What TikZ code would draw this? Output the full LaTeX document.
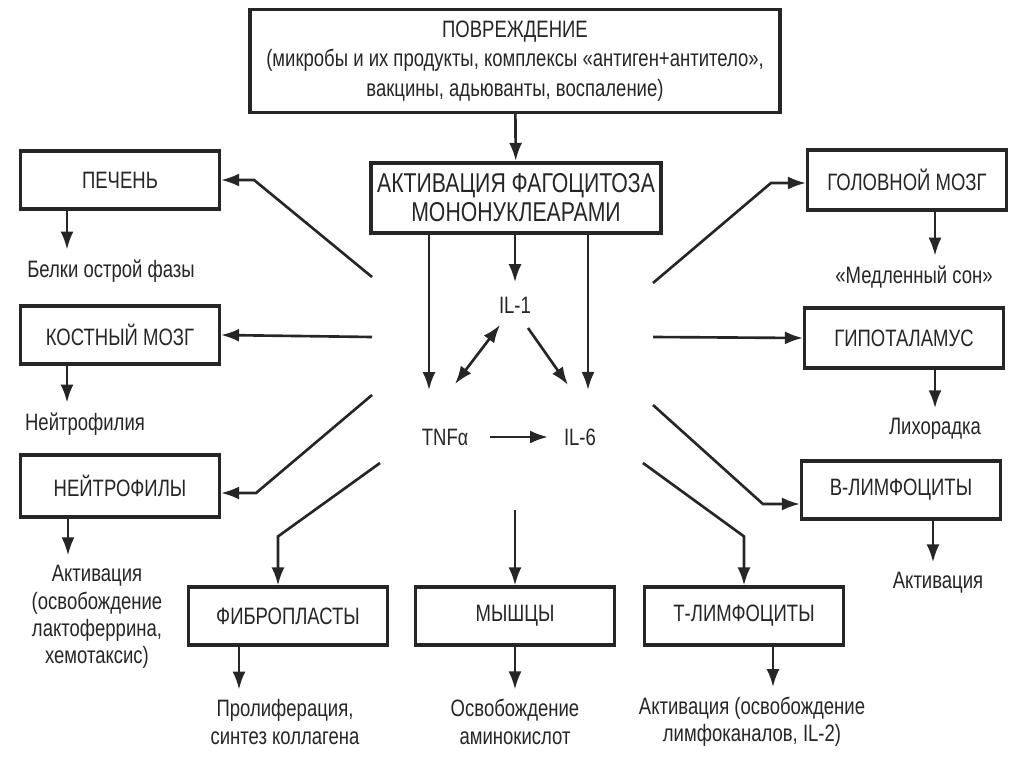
\documentclass[tikz,border=0pt]{standalone}
\usepackage{fontspec}
\setmainfont{Liberation Sans}[FakeStretch=0.78]
\usetikzlibrary{arrows.meta}

\begin{document}
\begin{tikzpicture}[
  x=0.02cm, y=-0.02cm,
  box/.style  = {rectangle, draw=black!85, line width=1.8pt, fill=white,
                 minimum width=3.98cm, minimum height=1.16cm, align=center,
                 text=black!85, font=\fontsize{13.5}{16.5}\selectfont},
  res/.style  = {align=center, inner sep=1pt, text=black!85,
                 font=\fontsize{13.5}{15.5}\selectfont},
  cyt/.style  = {inner sep=3pt, text=black!85, font=\fontsize{13.5}{16}\selectfont},
  arr/.style  = {-{Latex[length=3.6mm,width=2.6mm]}, line width=1.5pt, black!85},
  arrs/.style = {{Latex[length=3.6mm,width=2.6mm]}-{Latex[length=3.6mm,width=2.6mm]},
                 line width=1.5pt, black!85},
]
\useasboundingbox[fill=white] (0,0) rectangle (1024,767);
% Top: damage and activation
\node[box, minimum width=10.6cm, minimum height=2.06cm,
      font=\fontsize{13.5}{16.8}\selectfont] (dmg) at (515,61)
  {ПОВРЕЖДЕНИЕ\\(микробы и их продукты, комплексы «антиген+антитело»,\\вакцины, адьюванты, воспаление)};
\node[box, minimum width=5.04cm, minimum height=1.4cm, line width=2.4pt,
      font=\fontsize{15.5}{16.5}\selectfont] (act) at (516,198)
  {АКТИВАЦИЯ ФАГОЦИТОЗА\\МОНОНУКЛЕАРАМИ};
% Cytokines
\node[cyt] (il1) at (515,305) {IL-1};
\node[cyt] (tnf) at (445,437) {TNF{\fontsize{13}{13}\selectfont α}};
\node[cyt] (il6) at (580,437) {IL-6};
% Left column
\node[box] (liver)  at (120,180) {ПЕЧЕНЬ};
\node[box] (marrow) at (120,335) {КОСТНЫЙ МОЗГ};
\node[box, minimum height=1.24cm] (neut) at (120,486) {НЕЙТРОФИЛЫ};
\node[res] (prot)   at (111,271) {Белки острой фазы};
\node[res] (nphil)  at (85,424)  {Нейтрофилия};
\node[res] (nact)   at (97,617)  {Активация\\(освобождение\\лактоферрина,\\хемотаксис)};
% Bottom row
\node[box] (fibro)  at (288,616) {ФИБРОПЛАСТЫ};
\node[box] (muscle) at (515,616) {МЫШЦЫ};
\node[box] (tlym)   at (744,616) {Т-ЛИМФОЦИТЫ};
\node[res] (prolif) at (285,722) {Пролиферация,\\синтез коллагена};
\node[res] (amino)  at (515,722) {Освобождение\\аминокислот};
\node[res] (tact)   at (752,722) {Активация (освобождение\\лимфоканалов, IL-2)};
% Right column
\node[box, minimum height=1.2cm] (brain) at (907,180) {ГОЛОВНОЙ МОЗГ};
\node[box, minimum height=1.2cm] (hypo)  at (904,338) {ГИПОТАЛАМУС};
\node[box] (blym)  at (901,490) {В-ЛИМФОЦИТЫ};
\node[res] (sleep) at (914,277) {«Медленный сон»};
\node[res] (fever) at (935,429) {Лихорадка};
\node[res] (bact)  at (938,583) {Активация};
% Spoke ends round the cytokines
\coordinate (sl1) at (372,277);
\coordinate (sl2) at (372,337);
\coordinate (sl3) at (372,395);
\coordinate (sl4) at (380,463);
\coordinate (sm)  at (515,510);
\coordinate (sr4) at (643,463);
\coordinate (sr3) at (653,405);
\coordinate (sr2) at (653,337);
\coordinate (sr1) at (653,283);
% Arrows: centre
\draw[arr] (dmg) -- (act);
\draw[arr, shorten >=0.66cm] (429,0 |- act.south) -- (429,0 |- tnf.north);
\draw[arr, shorten >=0.18cm] (act.south -| il1.north) -- (il1.north);
\draw[arr, shorten >=0.66cm] (588,0 |- act.south) -- (588,0 |- il6.north);
\draw[arrs] ([shift={(-0.3cm,-0.4cm)}]il1.center) -- ([shift={(0.2cm,1.06cm)}]tnf.center);
\draw[arr] ([shift={(0.26cm,-0.46cm)}]il1.center) -- ([shift={(-0.24cm,1.04cm)}]il6.center);
\draw[arr] ([xshift=0.9cm]tnf.center) -- ([xshift=-0.64cm]il6.center);
% Arrows: spokes
\draw[arr] (sl1) -- ([xshift=0.66cm]liver.east) -- (liver.east);
\draw[arr] (sl2) -- (marrow.east);
\draw[arr] (sl3) -- ([shift={(0.7cm,-0.14cm)}]neut.east) -- ([yshift=-0.14cm]neut.east);
\draw[arr] (sl4) -- ([shift={(-0.2cm,0.98cm)}]fibro.north) -- ([xshift=-0.2cm]fibro.north);
\draw[arr] (sm)  -- (muscle.north);
\draw[arr] (sr4) -- ([yshift=0.98cm]tlym.north) -- (tlym.north);
\draw[arr] (sr3) -- ([shift={(-0.74cm,-0.28cm)}]blym.west) -- ([yshift=-0.28cm]blym.west);
\draw[arr] (sr2) -- (hypo.west);
\draw[arr] (sr1) -- ([shift={(-0.7cm,-0.06cm)}]brain.west) -- ([yshift=-0.06cm]brain.west);
% Arrows: outcomes
\draw[arr] (67,0 |- liver.south)  -- ([yshift=0.16cm]67,0 |- prot.north);
\draw[arr] (67,0 |- marrow.south) -- ([yshift=0.16cm]67,0 |- nphil.north);
\draw[arr] (68,0 |- neut.south)   -- ([yshift=0.16cm]68,0 |- nact.north);
\draw[arr] (239,0 |- fibro.south) -- ([yshift=0.16cm]239,0 |- prolif.north);
\draw[arr] (muscle.south)         -- ([yshift=0.16cm]amino.north -| muscle.south);
\draw[arr] (773,0 |- tlym.south)  -- ([yshift=0.16cm]773,0 |- tact.north);
\draw[arr] (935,0 |- brain.south) -- ([yshift=0.16cm]935,0 |- sleep.north);
\draw[arr] (935,0 |- hypo.south)  -- ([yshift=0.16cm]935,0 |- fever.north);
\draw[arr] (933,0 |- blym.south)  -- ([yshift=0.16cm]933,0 |- bact.north);
\end{tikzpicture}
\end{document}
